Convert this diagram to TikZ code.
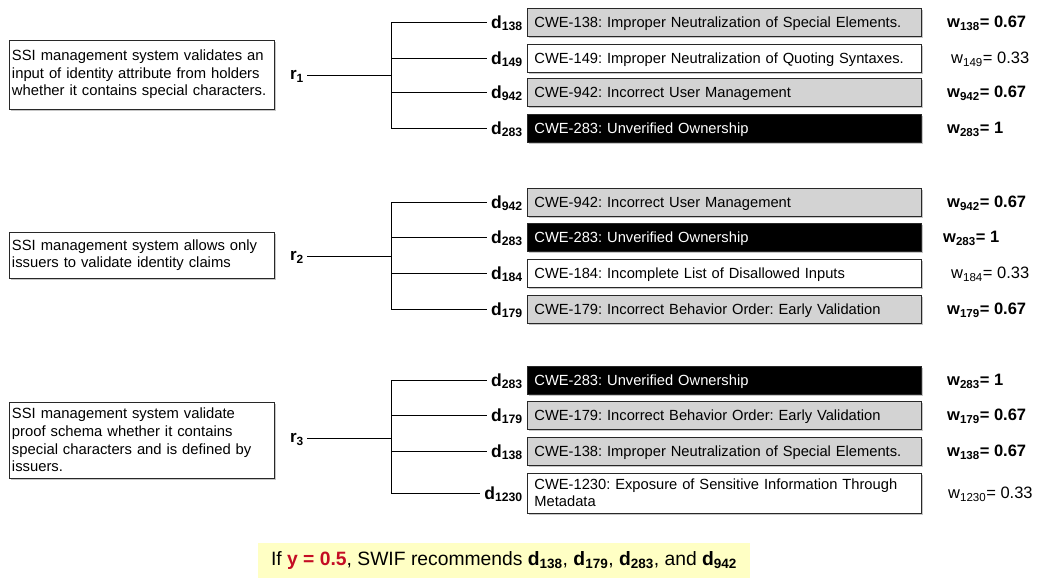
\documentclass[tikz,border=0pt]{standalone}
\usepackage{fontspec}
\setmainfont{Liberation Sans}
\frenchspacing
\hyphenpenalty=10000
\usetikzlibrary{shadows}

\definecolor{boxgray}{RGB}{211,211,211}
\definecolor{edge}{RGB}{40,40,40}
\definecolor{noteyellow}{RGB}{255,255,196}
\definecolor{hot}{RGB}{196,12,36}

\tikzset{
  softshadow/.style={drop shadow={opacity=0.45, shadow xshift=1.5pt, shadow yshift=-2pt}},
  cwe/.style={draw=edge, line width=0.9pt, text width=380pt, minimum height=28pt,
    inner xsep=7pt, inner ysep=2pt, align=left, anchor=west, text depth=0pt,
    font=\fontsize{14.7}{17}\selectfont, softshadow},
  cwehi/.style={cwe, fill=black, text=white},
  cwemid/.style={cwe, fill=boxgray},
  cwelo/.style={cwe, fill=white},
  req/.style={draw=edge, fill=white, line width=0.9pt, text width=259pt,
    inner xsep=3pt, inner ysep=3pt, align=left,
    font=\fontsize{14.8}{17.6}\selectfont, softshadow},
  dlab/.style={font=\fontsize{17.5}{19}\bfseries\selectfont, inner xsep=4pt,
    inner ysep=0pt, text depth=0pt, anchor=east},
  rlab/.style={font=\fontsize{17}{19}\bfseries\selectfont, inner xsep=3pt,
    inner ysep=0pt, text depth=0pt, anchor=east},
  wstrong/.style={font=\fontsize{16.5}{18}\bfseries\selectfont, inner sep=0pt,
    text depth=0pt, anchor=west},
  wweak/.style={font=\fontsize{16.5}{18}\selectfont, inner sep=0pt,
    text depth=0pt, anchor=west},
  link/.style={draw=black, line width=0.9pt},
}

\begin{document}
\begin{tikzpicture}[x=1pt,y=-1pt]
\useasboundingbox (0,0) rectangle (1037,581);

% ---------- requirement r1 ----------
\node[req, minimum height=69pt] (q1) at (141.5,74.5)
  {SSI management system validates an\\input of identity attribute from holders\\whether it contains special characters.};
\node[rlab] (r1) at (307,75) {r\textsubscript{1}};
\coordinate (j1) at (391,75);

\node[cwemid] (b1a) at (527,22)  {CWE-138: Improper Neutralization of Special Elements.};
\node[cwelo]  (b1b) at (527,58)  {CWE-149: Improper Neutralization of Quoting Syntaxes.};
\node[cwemid] (b1c) at (527,92)  {CWE-942: Incorrect User Management};
\node[cwehi]  (b1d) at (527,128) {CWE-283: Unverified Ownership};

\node[dlab] (d1a) at (b1a.west) {d\textsubscript{138}};
\node[dlab] (d1b) at (b1b.west) {d\textsubscript{149}};
\node[dlab] (d1c) at (b1c.west) {d\textsubscript{942}};
\node[dlab] (d1d) at (b1d.west) {d\textsubscript{283}};

\node[wstrong] (w1a) at (947,22)  {w\textsubscript{138}= 0.67};
\node[wweak]   (w1b) at (951,58)  {w\textsubscript{149}= 0.33};
\node[wstrong] (w1c) at (947,92)  {w\textsubscript{942}= 0.67};
\node[wstrong] (w1d) at (947,128) {w\textsubscript{283}= 1};

\draw[link] (r1) -- (j1);
\draw[link] (j1 |- d1a.west) -- (j1 |- d1d.west);
\foreach \n in {d1a,d1b,d1c,d1d} \draw[link] (j1 |- \n.west) -- (\n.west);

% ---------- requirement r2 ----------
\node[req, minimum height=46pt] (q2) at (141.5,255)
  {SSI management system allows only\\issuers to validate identity claims};
\node[rlab] (r2) at (307,256) {r\textsubscript{2}};
\coordinate (j2) at (391,256);

\node[cwemid] (b2a) at (527,202) {CWE-942: Incorrect User Management};
\node[cwehi]  (b2b) at (527,237) {CWE-283: Unverified Ownership};
\node[cwelo]  (b2c) at (527,273) {CWE-184: Incomplete List of Disallowed Inputs};
\node[cwemid] (b2d) at (527,309) {CWE-179: Incorrect Behavior Order: Early Validation};

\node[dlab] (d2a) at (b2a.west) {d\textsubscript{942}};
\node[dlab] (d2b) at (b2b.west) {d\textsubscript{283}};
\node[dlab] (d2c) at (b2c.west) {d\textsubscript{184}};
\node[dlab] (d2d) at (b2d.west) {d\textsubscript{179}};

\node[wstrong] (w2a) at (947,202) {w\textsubscript{942}= 0.67};
\node[wstrong] (w2b) at (943,237) {w\textsubscript{283}= 1};
\node[wweak]   (w2c) at (951,273) {w\textsubscript{184}= 0.33};
\node[wstrong] (w2d) at (947,309) {w\textsubscript{179}= 0.67};

\draw[link] (r2) -- (j2);
\draw[link] (j2 |- d2a.west) -- (j2 |- d2d.west);
\foreach \n in {d2a,d2b,d2c,d2d} \draw[link] (j2 |- \n.west) -- (\n.west);

% ---------- requirement r3 ----------
\node[req, minimum height=76pt] (q3) at (141.5,440)
  {SSI management system validate\\proof schema whether it contains\\special characters and is defined by\\issuers.};
\node[rlab] (r3) at (307,438) {r\textsubscript{3}};
\coordinate (j3) at (391,438);

\node[cwehi]  (b3a) at (527,380) {CWE-283: Unverified Ownership};
\node[cwemid] (b3b) at (527,415) {CWE-179: Incorrect Behavior Order: Early Validation};
\node[cwemid] (b3c) at (527,451) {CWE-138: Improper Neutralization of Special Elements.};
\node[cwelo, minimum height=40pt, text depth={}] (b3d) at (527,493)
  {CWE-1230: Exposure of Sensitive Information Through\\Metadata};

\node[dlab] (d3a) at (b3a.west) {d\textsubscript{283}};
\node[dlab] (d3b) at (b3b.west) {d\textsubscript{179}};
\node[dlab] (d3c) at (b3c.west) {d\textsubscript{138}};
\node[dlab] (d3d) at (b3d.west) {d\textsubscript{1230}};

\node[wstrong] (w3a) at (947,380) {w\textsubscript{283}= 1};
\node[wstrong] (w3b) at (947,415) {w\textsubscript{179}= 0.67};
\node[wstrong] (w3c) at (947,451) {w\textsubscript{138}= 0.67};
\node[wweak]   (w3d) at (948,493) {w\textsubscript{1230}= 0.33};

\draw[link] (r3) -- (j3);
\draw[link] (j3 |- d3a.west) -- (j3 |- d3d.west);
\foreach \n in {d3a,d3b,d3c,d3d} \draw[link] (j3 |- \n.west) -- (\n.west);

% ---------- recommendation ----------
\node[fill=noteyellow, minimum width=492pt, minimum height=35pt, inner sep=0pt,
      font=\fontsize{19.3}{22}\selectfont] (rec) at (504,560.5)
  {If \textcolor{hot}{\textbf{y = 0.5}}, SWIF recommends \textbf{d\textsubscript{138}},
   \textbf{d\textsubscript{179}}, \textbf{d\textsubscript{283}}, and \textbf{d\textsubscript{942}}};
\end{tikzpicture}
\end{document}
